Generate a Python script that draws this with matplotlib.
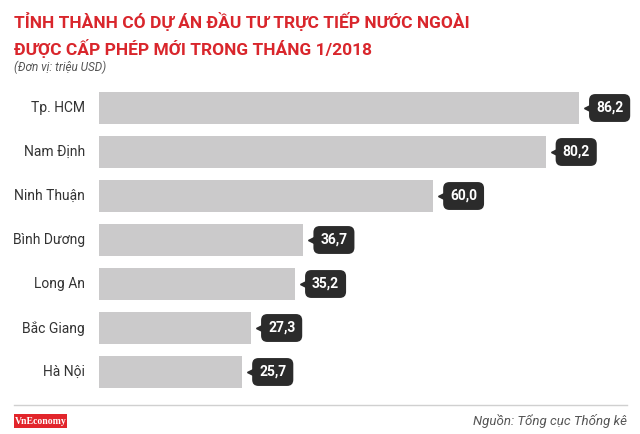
import numpy as np
import matplotlib.pyplot as plt
from matplotlib.transforms import offset_copy
import matplotlib.patches as mpatches

# Dữ liệu
provinces = ['Tp. HCM', 'Nam Định', 'Ninh Thuận', 'Bình Dương', 'Long An', 'Bắc Giang', 'Hà Nội']
values = [86.2, 80.2, 60.0, 36.7, 35.2, 27.3, 25.7]
value_labels = ['86,2', '80,2', '60,0', '36,7', '35,2', '27,3', '25,7']

title_lines = ['TỈNH THÀNH CÓ DỰ ÁN ĐẦU TƯ TRỰC TIẾP NƯỚC NGOÀI',
               'ĐƯỢC CẤP PHÉP MỚI TRONG THÁNG 1/2018']
unit_text = '(Đơn vị: triệu USD)'
source_text = 'Nguồn: Tổng cục Thống kê'

W, H = 640, 434
fig = plt.figure(figsize=(W / 100, H / 100), dpi=100)
fig.patch.set_facecolor('white')

font = ['Roboto', 'DejaVu Sans']
red = '#d9262c'

fig.text(14 / W, 1 - 28 / H, title_lines[0], color=red, fontsize=12.5,
         fontweight='bold', family=font, ha='left', va='baseline')
fig.text(14 / W, 1 - 55 / H, title_lines[1], color=red, fontsize=12.5,
         fontweight='bold', family=font, ha='left', va='baseline')
fig.text(14 / W, 1 - 71 / H, unit_text, color='#555555', fontsize=8.5,
         style='italic', family=font, ha='left', va='baseline')

# Trục biểu đồ
left, top, bottom = 99, 86, 394
ax = fig.add_axes([left / W, (H - bottom) / H, 1 - left / W, (bottom - top) / H])
scale = 480 / max(values)  # px per unit
ax.set_xlim(0, (W - left) / scale)
ax.set_ylim(len(values) - 0.5, -0.5)
ax.axis('off')

y = np.arange(len(values))
ax.barh(y, values, height=0.73, color='#cbcacb')

bubble = '#2b2b2b'
for i, (name, v, lab) in enumerate(zip(provinces, values, value_labels)):
    ax.text(-14 / scale, i, name, ha='right', va='center', fontsize=10,
            color='#333333', family=font)
    # mũi nhọn của nhãn
    tr = offset_copy(ax.transData, fig=fig, x=9, y=0, units='dots')
    ax.plot(v, i, marker='<', markersize=6, color=bubble, transform=tr,
            clip_on=False)
    tr2 = offset_copy(ax.transData, fig=fig, x=17, y=0, units='dots')
    ax.text(v, i, lab, transform=tr2, ha='left', va='center', fontsize=10,
            fontweight='bold', color='white', family=font,
            bbox=dict(boxstyle='round,pad=0.5,rounding_size=0.45',
                      fc=bubble, ec='none'))

# Chân trang
fig.add_artist(plt.Line2D([14 / W, 627 / W], [1 - 405 / H, 1 - 405 / H],
                          color='#d0d0d0', lw=1))
fig.add_artist(mpatches.Rectangle((14 / W, 1 - 428 / H), 53 / W, 14 / H,
                                  transform=fig.transFigure, fc='#e2252b',
                                  ec='none'))
fig.text(40.5 / W, 1 - 421 / H, 'VnEconomy', color='white', fontsize=7,
         fontweight='bold', family=['Liberation Serif', 'DejaVu Serif'],
         ha='center', va='center')
fig.text(627 / W, 1 - 421 / H, source_text, color='#555555', fontsize=9.5,
         style='italic', family=font, ha='right', va='center')

fig.savefig('out.png', dpi=100)
